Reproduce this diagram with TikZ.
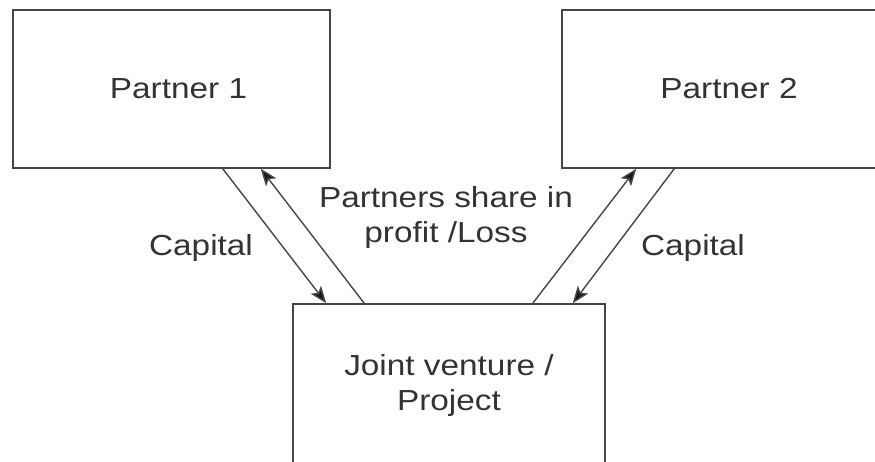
\documentclass[tikz,border=0pt]{standalone}
\usepackage{fontspec}
\setmainfont{Liberation Sans}[FakeStretch=1.15]
\usetikzlibrary{arrows.meta,calc}
\definecolor{linegray}{gray}{0.27}
\definecolor{textgray}{gray}{0.2}
\tikzset{
  partybox/.style={draw=linegray,line width=1.6pt,text=textgray,align=center,
    font=\fontsize{29}{35}\selectfont},
  flowtip/.tip={Stealth[length=17pt,width=13pt,inset=4pt,fill=black!90]},
  flow/.style={draw=linegray,line width=1.4pt,-flowtip},
  caption/.style={text=textgray,align=center,font=\fontsize{29}{35}\selectfont}
}
\begin{document}
\begin{tikzpicture}[x=1pt,y=-1pt]
\useasboundingbox (0,0) rectangle (875,461);
\clip (0,0) rectangle (875,461);
\node[partybox,minimum width=317pt,minimum height=158pt] (p1) at (171.5,89) {\hspace*{14pt}Partner 1};
\node[partybox,minimum width=334pt,minimum height=158pt] (p2) at (729,89) {Partner 2};
\node[partybox,minimum width=312pt,minimum height=162pt] (jv) at (449,385) {Joint venture /\\Project};
\draw[flow] ([xshift=-108pt]p1.south east) -- ([xshift=34pt]jv.north west);
\draw[flow] ([xshift=72pt]jv.north west) -- ([xshift=-70pt]p1.south east);
\draw[flow] ([xshift=-73pt]jv.north east) -- ([xshift=75pt]p2.south west);
\draw[flow] ([xshift=113pt]p2.south west) -- ([xshift=-33pt]jv.north east);
\node[caption] (share) at (446,217) {Partners share in\\profit /Loss};
\node[caption] (capl) at (201,248) {Capital};
\node[caption] (capr) at (693,248) {Capital};
\end{tikzpicture}
\end{document}
